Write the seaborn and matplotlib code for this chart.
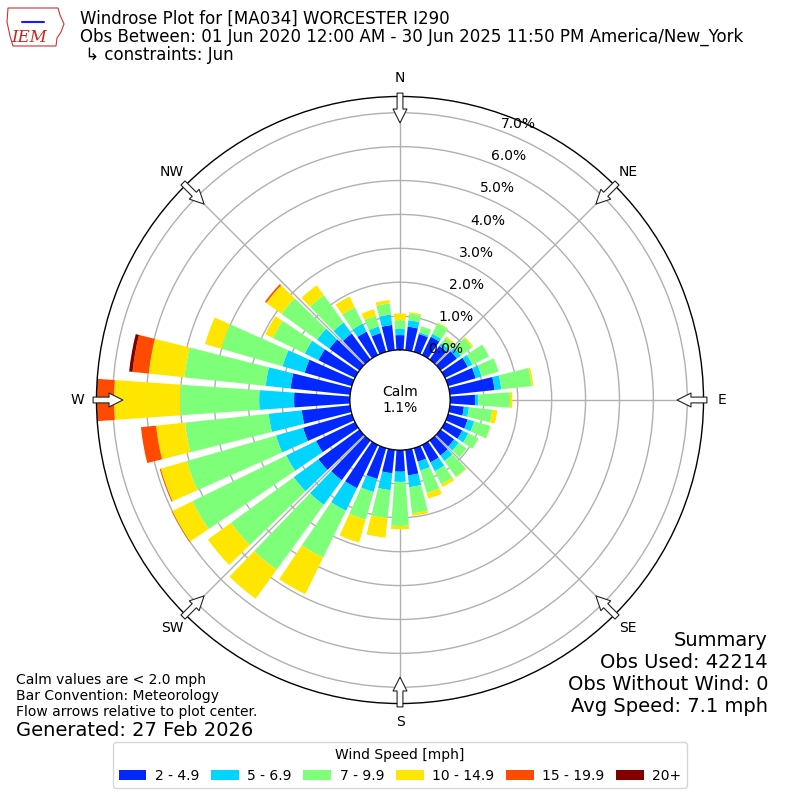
import numpy as np
import matplotlib
matplotlib.use("Agg")
import matplotlib.pyplot as plt
from matplotlib.patches import Polygon
from matplotlib.transforms import offset_copy
import seaborn as sns

# wind direction bins (degrees, direction wind blows from)
directions = np.arange(0, 360, 10)
speed_labels = ["2 - 4.9", "5 - 6.9", "7 - 9.9", "10 - 14.9", "15 - 19.9", "20+"]

# percent of observations per direction for each speed bin
pct_2_5 = [0.44, 0.70, 0.55, 0.60, 0.50, 0.60, 0.75, 0.85, 1.33, 0.74, 0.42, 0.60,
           0.57, 0.50, 0.55, 0.57, 0.42, 0.76, 0.64, 0.70, 0.95, 1.42, 1.45, 1.50,
           1.28, 1.50, 1.44, 1.65, 1.77, 1.45, 1.20, 1.10, 0.95, 0.77, 0.58, 0.75]
pct_5_7 = [0.18, 0.19, 0.05, 0.10, 0.10, 0.15, 0.15, 0.18, 0.20, 0.10, 0.15, 0.20,
           0.20, 0.17, 0.20, 0.29, 0.27, 0.35, 0.30, 0.50, 0.40, 0.74, 0.90, 0.90,
           0.98, 0.83, 0.98, 1.03, 0.74, 0.68, 0.45, 0.45, 0.40, 0.26, 0.20, 0.31]
pct_7_10 = [0.26, 0.20, 0.19, 0.35, 0.20, 0.40, 0.55, 0.52, 0.90, 0.93, 0.69, 0.50,
            0.33, 0.29, 0.58, 0.43, 0.69, 0.78, 1.30, 0.83, 0.85, 1.54, 2.37, 2.29,
            3.08, 2.74, 2.48, 2.33, 2.41, 1.88, 1.05, 1.30, 1.00, 0.54, 0.33, 0.33]
pct_10_15 = [0.20, 0.04, 0.00, 0.02, 0.05, 0.05, 0.00, 0.00, 0.05, 0.07, 0.15, 0.01,
             0.00, 0.00, 0.02, 0.09, 0.17, 0.07, 0.10, 0.58, 0.70, 1.20, 1.05, 0.84,
             0.66, 0.80, 0.86, 1.95, 1.06, 0.50, 0.25, 0.55, 0.36, 0.35, 0.20, 0.10]
pct_15_20 = [0, 0, 0, 0, 0, 0, 0, 0, 0, 0, 0, 0,
             0, 0, 0, 0, 0, 0, 0, 0, 0, 0, 0, 0,
             0.02, 0.03, 0.45, 0.50, 0.48, 0, 0, 0.05, 0, 0, 0, 0]
pct_20 = [0, 0, 0, 0, 0, 0, 0, 0, 0, 0, 0, 0,
          0, 0, 0, 0, 0, 0, 0, 0, 0, 0, 0, 0,
          0, 0, 0, 0.02, 0.10, 0, 0, 0, 0, 0, 0, 0]

compass = ["N", "NE", "E", "SE", "S", "SW", "W", "NW"]
r_ticks = [0, 1, 2, 3, 4, 5, 6, 7]

sns.set_style("white")
plt.rcParams["font.family"] = ["DejaVu Sans"]
plt.rcParams["text.color"] = "black"
plt.rcParams["xtick.color"] = "black"
plt.rcParams["ytick.color"] = "black"

colors = sns.color_palette(["#0028ff", "#00d4ff", "#7dff7a", "#ffe600", "#ff4a00", "#800000"])
bins = [pct_2_5, pct_5_7, pct_7_10, pct_10_15, pct_15_20, pct_20]

fig = plt.figure(figsize=(8, 8), dpi=100)
ax = fig.add_axes([0.1206, 0.1206, 0.7588, 0.7588], projection="polar")
ax.set_theta_zero_location("N")
ax.set_theta_direction(-1)

theta = np.deg2rad(directions)
bottom = np.zeros(len(directions))
for vals, col, lab in zip(bins, colors, speed_labels):
    vals = np.array(vals)
    ax.bar(theta, vals, width=np.deg2rad(8), bottom=bottom, color=col,
           label=lab, linewidth=0, align="center")
    bottom += vals

rmax = bottom.max()
ax.set_ylim(0, rmax)
ax.set_rorigin(-1.475)

ax.set_yticks(r_ticks)
ax.set_yticklabels([])
# radial labels, drawn on top of the bars
lab_tr = offset_copy(ax.transData, fig=fig, x=30, y=3, units="dots")
for t in r_ticks:
    ax.text(np.deg2rad(18), t, f"{t:.1f}%", transform=lab_tr, ha="center", va="center",
            fontsize=10, zorder=10)
ax.set_xticks(np.deg2rad(np.arange(0, 360, 45)))
ax.set_xticklabels(compass, fontsize=10)
ax.tick_params(axis="x", pad=3)
ax.grid(True, color="#b0b0b0", linewidth=1)
ax.spines["polar"].set_color("black")
ax.spines["polar"].set_linewidth(1)

# calm circle
circ = np.linspace(0, 2 * np.pi, 300)
ax.plot(circ, np.zeros_like(circ), color="black", lw=1, zorder=4)
fig.text(0.5, 0.5, "Calm\n1.1%", ha="center", va="center", fontsize=10)

# flow arrows
for ang in range(0, 360, 45):
    ax.annotate("", xy=(np.deg2rad(ang), rmax - 0.78), xytext=(np.deg2rad(ang), rmax + 0.1),
                arrowprops=dict(arrowstyle="simple,head_length=1.0,head_width=1.0,tail_width=0.42",
                                fc="white", ec="#222222", lw=0.8, shrinkA=0, shrinkB=0),
                annotation_clip=False, zorder=6)

leg = fig.legend(loc="lower center", bbox_to_anchor=(0.5, 0.006), ncol=6,
                 title="Wind Speed [mph]", fontsize=10, title_fontsize=10,
                 handletextpad=0.6, columnspacing=0.85, frameon=True)
leg.get_frame().set_edgecolor("#cccccc")

# titles
fig.text(0.1, 1 - 19 / 800, "Windrose Plot for [MA034] WORCESTER I290", fontsize=12, va="center")
fig.text(0.1, 1 - 37 / 800, "Obs Between: 01 Jun 2020 12:00 AM - 30 Jun 2025 11:50 PM America/New_York",
         fontsize=12, va="center")
fig.text(0.1, 1 - 55 / 800, " \u21b3 constraints: Jun", fontsize=12, va="center")

# logo
logo = [(8, 8), (58, 8), (60, 15), (64, 24), (61, 32), (57, 38), (56, 46), (13, 46), (10, 36), (7, 22)]
fig.patches.append(Polygon([(x / 800, 1 - y / 800) for x, y in logo], closed=True, fill=False,
                           ec="#cc3333", lw=0.8, transform=fig.transFigure))
fig.lines.append(plt.Line2D([22 / 800, 44 / 800], [1 - 22 / 800, 1 - 22 / 800], color="#1a1aff",
                            lw=1.5, transform=fig.transFigure))
fig.text(29 / 800, 1 - 38 / 800, "IEM", color="#cc2222", fontsize=12, family="serif",
         style="italic", ha="center", va="center")

# footnotes
fig.text(16 / 800, 1 - 680 / 800, "Calm values are < 2.0 mph", fontsize=10, va="center")
fig.text(16 / 800, 1 - 696 / 800, "Bar Convention: Meteorology", fontsize=10, va="center")
fig.text(16 / 800, 1 - 712 / 800, "Flow arrows relative to plot center.", fontsize=10, va="center")
fig.text(16 / 800, 1 - 730 / 800, "Generated: 27 Feb 2026", fontsize=14, va="center")

summary = ["Summary", "Obs Used: 42214", "Obs Without Wind: 0", "Avg Speed: 7.1 mph"]
for i, line in enumerate(summary):
    fig.text(768 / 800, 1 - (640 + 22 * i) / 800, line, fontsize=14, ha="right", va="center")

fig.savefig("out.png", dpi=100)
